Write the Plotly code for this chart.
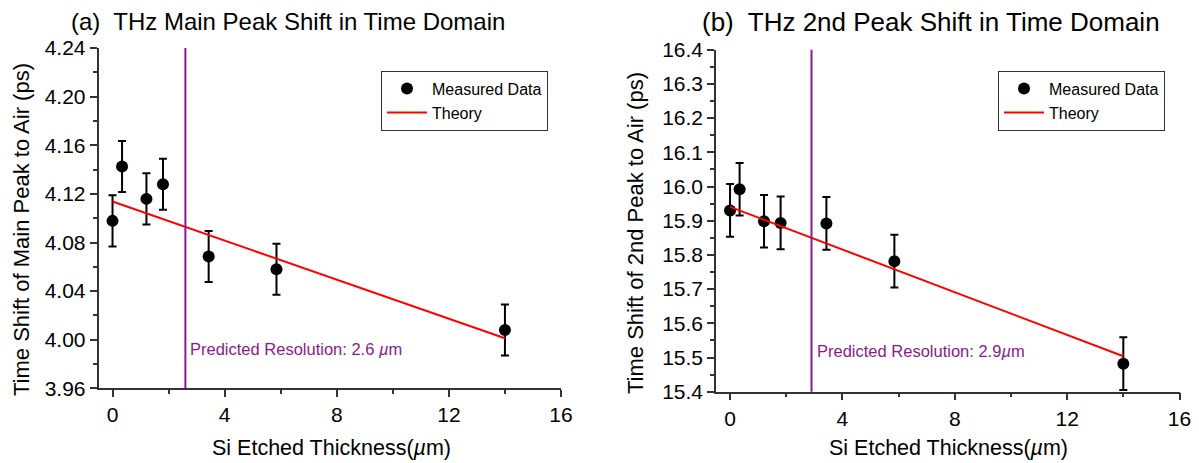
import plotly.graph_objects as go

# ---------------- data ----------------
thickness = [0, 0.34, 1.21, 1.8, 3.43, 5.85, 14.0]

main_peak = [4.0978, 4.1425, 4.1159, 4.128, 4.0684, 4.058, 4.008]
main_err = [0.021, 0.021, 0.021, 0.021, 0.021, 0.021, 0.021]
main_theory_x = [0, 14]
main_theory_y = [4.1137, 4.0012]
main_resolution = 2.6

second_peak = [15.930, 15.992, 15.8985, 15.8936, 15.892, 15.7816, 15.482]
second_err = [0.077, 0.077, 0.077, 0.077, 0.077, 0.077, 0.077]
second_theory_x = [0, 14]
second_theory_y = [15.9404, 15.5038]
second_resolution = 2.9

x_ticks = [0, 4, 8, 12, 16]
titles = ["(a)  THz Main Peak Shift in Time Domain", "(b)  THz 2nd Peak Shift in Time Domain"]
y_titles = ["Time Shift of Main Peak to Air (ps)", "Time Shift of 2nd Peak to Air (ps)"]
x_title = "Si Etched Thickness(<i>µ</i>m)"
res_labels = ["Predicted Resolution: 2.6 <i>µ</i>m", "Predicted Resolution: 2.9<i>µ</i>m"]

# ---------------- layout helpers ----------------
OFF = 8  # page body margin
W, H = 1199 - OFF, 463 - OFF
FONT = "Arial, 'Liberation Sans', sans-serif"
AXC = "#333333"
PURPLE = "#8B1A8B"


def px(x):
    return (x - OFF) / W


def py(y):
    return 1 - (y - OFF) / H


fig = go.Figure()

# left panel traces
fig.add_trace(go.Scatter(
    x=thickness, y=main_peak, mode="markers", name="Measured Data",
    marker=dict(color="black", size=12),
    error_y=dict(type="data", array=main_err, color="black", thickness=2, width=4),
    xaxis="x", yaxis="y", legend="legend"))
fig.add_trace(go.Scatter(
    x=main_theory_x, y=main_theory_y, mode="lines", name="Theory",
    line=dict(color="red", width=2), xaxis="x", yaxis="y", legend="legend"))

# right panel traces
fig.add_trace(go.Scatter(
    x=thickness, y=second_peak, mode="markers", name="Measured Data",
    marker=dict(color="black", size=12),
    error_y=dict(type="data", array=second_err, color="black", thickness=2, width=4),
    xaxis="x2", yaxis="y2", legend="legend2"))
fig.add_trace(go.Scatter(
    x=second_theory_x, y=second_theory_y, mode="lines", name="Theory",
    line=dict(color="red", width=2), xaxis="x2", yaxis="y2", legend="legend2"))

common_x = dict(
    range=[-0.5, 16], tickvals=x_ticks, ticks="outside", ticklen=7, tickwidth=1.5,
    tickcolor=AXC, showline=True, linecolor=AXC, linewidth=1.5, showgrid=False,
    zeroline=False, automargin=False, tickfont=dict(size=21, color="black", family=FONT),
    minor=dict(dtick=2, tick0=0, ticks="outside", ticklen=4, tickwidth=1.5, tickcolor=AXC, showgrid=False),
)
common_y = dict(
    ticks="outside", ticklen=7, tickwidth=1.5, tickcolor=AXC, showline=True,
    linecolor=AXC, linewidth=1.5, showgrid=False, zeroline=False, automargin=False,
    tickfont=dict(size=21, color="black", family=FONT),
)

fig.update_layout(
    template="none",
    width=W, height=H,
    margin=dict(l=0, r=0, t=0, b=0, autoexpand=False),
    paper_bgcolor="white", plot_bgcolor="white",
    font=dict(family=FONT, color="black"),
    xaxis=dict(domain=[px(98.5), px(561)], anchor="y", **common_x),
    yaxis=dict(domain=[py(388.3), py(48.1)], anchor="x", range=[3.96, 4.24],
               tickmode="linear", tick0=3.96, dtick=0.04, tickformat=".2f",
               minor=dict(dtick=0.02, ticks="outside", ticklen=4, tickwidth=1.5, tickcolor=AXC, showgrid=False),
               **common_y),
    xaxis2=dict(domain=[px(716), px(1179.5)], anchor="y2", **common_x),
    yaxis2=dict(domain=[py(391.7), py(49.7)], anchor="x2", range=[15.4, 16.4],
                tickmode="linear", tick0=15.4, dtick=0.1, tickformat=".1f",
                minor=dict(dtick=0.05, ticks="outside", ticklen=4, tickwidth=1.5, tickcolor=AXC, showgrid=False),
                **common_y),
    legend=dict(x=px(381), y=py(70.7), xanchor="left", yanchor="top",
                bordercolor=AXC, borderwidth=1, bgcolor="white",
                font=dict(size=16, family=FONT, color="black"), itemwidth=40,
                tracegroupgap=0),
    legend2=dict(x=px(998), y=py(70.7), xanchor="left", yanchor="top",
                 bordercolor=AXC, borderwidth=1, bgcolor="white",
                 font=dict(size=16, family=FONT, color="black"), itemwidth=40,
                 tracegroupgap=0),
    showlegend=True,
)

# vertical resolution lines
fig.add_shape(type="line", xref="x", yref="y domain", x0=main_resolution, x1=main_resolution,
              y0=0, y1=1, line=dict(color=PURPLE, width=2))
fig.add_shape(type="line", xref="x2", yref="y2 domain", x0=second_resolution, x1=second_resolution,
              y0=0, y1=1, line=dict(color=PURPLE, width=2))

annos = []
# panel titles
annos.append(dict(text=titles[0], x=px(69), y=py(21), xref="paper", yref="paper",
                  xanchor="left", yanchor="middle", showarrow=False,
                  font=dict(size=24, family=FONT, color="black")))
annos.append(dict(text=titles[1], x=px(700), y=py(22), xref="paper", yref="paper",
                  xanchor="left", yanchor="middle", showarrow=False,
                  font=dict(size=26, family=FONT, color="black")))
# y titles
annos.append(dict(text=y_titles[0], x=px(21), y=py(230), xref="paper", yref="paper",
                  xanchor="center", yanchor="middle", textangle=-90, showarrow=False,
                  font=dict(size=22, family=FONT, color="black")))
annos.append(dict(text=y_titles[1], x=px(635), y=py(233), xref="paper", yref="paper",
                  xanchor="center", yanchor="middle", textangle=-90, showarrow=False,
                  font=dict(size=22, family=FONT, color="black")))
# x titles
annos.append(dict(text=x_title, x=px(331), y=py(448), xref="paper", yref="paper",
                  xanchor="center", yanchor="middle", showarrow=False,
                  font=dict(size=21.5, family=FONT, color="black")))
annos.append(dict(text=x_title, x=px(948), y=py(448), xref="paper", yref="paper",
                  xanchor="center", yanchor="middle", showarrow=False,
                  font=dict(size=21.5, family=FONT, color="black")))
# resolution labels
annos.append(dict(text=res_labels[0], x=px(188), y=py(349), xref="paper", yref="paper",
                  xanchor="left", yanchor="middle", showarrow=False,
                  font=dict(size=16.5, family=FONT, color=PURPLE)))
annos.append(dict(text=res_labels[1], x=px(815), y=py(351), xref="paper", yref="paper",
                  xanchor="left", yanchor="middle", showarrow=False,
                  font=dict(size=16.5, family=FONT, color=PURPLE)))
fig.update_layout(annotations=annos)

fig.write_html("out.html")
